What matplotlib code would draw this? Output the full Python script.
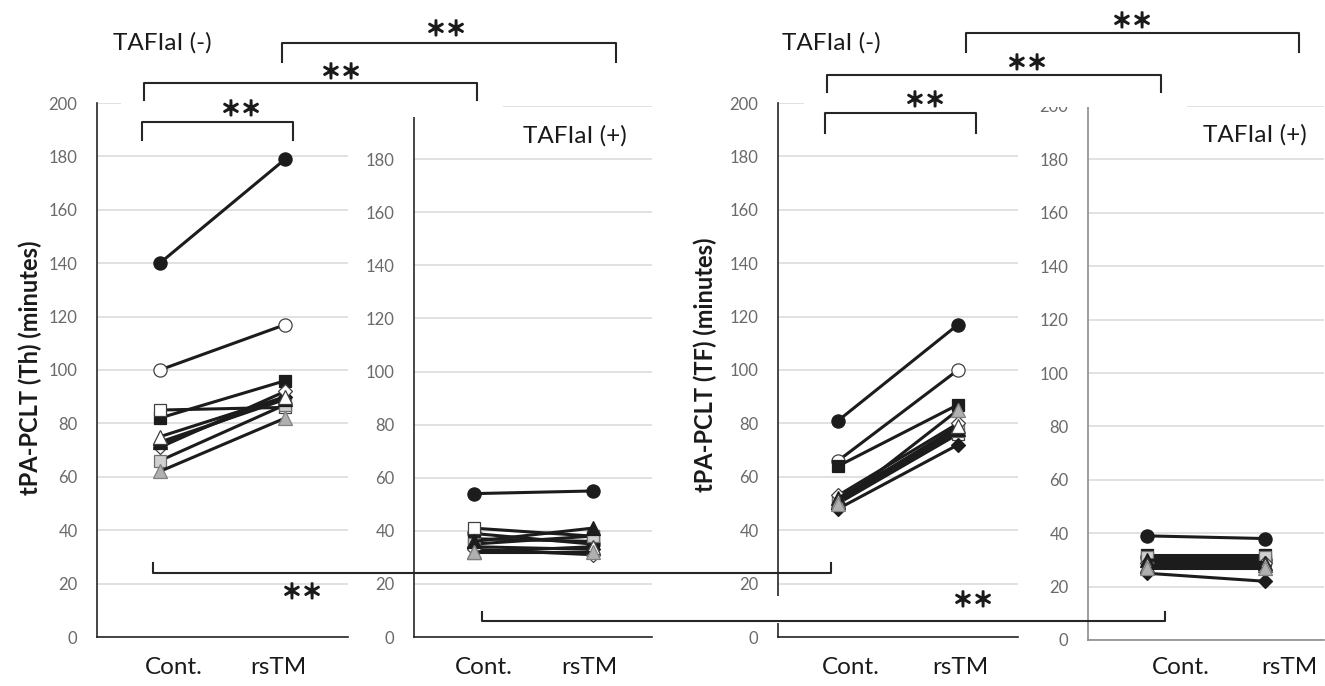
import matplotlib.pyplot as plt
import matplotlib.patheffects as pe
from matplotlib.patches import Rectangle

W, H, DPI = 1325, 686, 100

categories = ["Cont.", "rsTM"]

# one entry per subject, same order in every panel
th_minus_cont = [140, 100, 82, 85, 66, 72, 71, 73, 75, 62]
th_minus_rstm = [179, 117, 96, 86, 87, 90, 92, 89, 90, 82]
th_plus_cont = [54, 39, 37, 41, 35, 34, 33, 36, 32, 32]
th_plus_rstm = [55, 35, 36, 38, 38, 33, 31, 41, 34, 32]
tf_minus_cont = [81, 66, 64, 50, 51, 48, 53, 52, 51, 50]
tf_minus_rstm = [117, 100, 87, 76, 77, 72, 80, 78, 79, 85]
tf_plus_cont = [39, 31, 32, 30, 31, 25, 29, 30, 28, 27]
tf_plus_rstm = [38, 30, 32, 30, 31, 22, 29, 29, 28, 27]

y_ticks = [0, 20, 40, 60, 80, 100, 120, 140, 160, 180, 200]

DARK = '#1c1c1c'
# marker, face colour, edge colour, size
styles = [
    ('o', DARK, DARK, 9.5),
    ('o', 'white', '#404040', 9.5),
    ('s', DARK, DARK, 9),
    ('s', 'white', '#404040', 9),
    ('s', '#d0d0d0', '#707070', 9),
    ('D', DARK, DARK, 7.5),
    ('D', 'white', '#404040', 7.5),
    ('^', DARK, DARK, 9.5),
    ('^', 'white', '#404040', 9.5),
    ('^', '#b0b0b0', '#808080', 9.5),
]

plt.rcParams['font.family'] = ['Lato', 'DejaVu Sans']

fig = plt.figure(figsize=(W / DPI, H / DPI), dpi=DPI)


def px_axes(left, right, top, bottom):
    # axes placed by pixel edges (top = value 200, bottom = value 0)
    return fig.add_axes([left / W, 1 - bottom / H, (right - left) / W, (bottom - top) / H])


def draw_panel(ax, cont, rstm, spine_color='#262626'):
    ax.set_facecolor('none')
    ax.set_xlim(-0.5, 1.5)
    ax.set_ylim(0, 200)
    ax.set_yticks(y_ticks)
    ax.set_xticks([])
    ax.grid(axis='y', color='#d9d9d9', lw=1.1)
    ax.set_axisbelow(True)
    ax.tick_params(axis='y', length=0, pad=14, labelsize=12, labelcolor='#6a6a6a')
    for s in ['top', 'right']:
        ax.spines[s].set_visible(False)
    for s in ['left', 'bottom']:
        ax.spines[s].set_color(spine_color)
        ax.spines[s].set_linewidth(1.2)
    for i, (m, fc, ec, ms) in enumerate(styles):
        ax.plot([0, 1], [cont[i], rstm[i]], color=DARK, lw=2.2,
                marker=m, ms=ms, mfc=fc, mec=ec, mew=0.9,
                clip_on=False, zorder=3 + i)


ax1 = px_axes(97, 348, 103, 637)
draw_panel(ax1, th_minus_cont, th_minus_rstm)
ax2 = px_axes(414, 652, 106, 637)
draw_panel(ax2, th_plus_cont, th_plus_rstm)
ax3 = px_axes(778, 1018, 103, 637)
draw_panel(ax3, tf_minus_cont, tf_minus_rstm)
ax4 = px_axes(1088, 1324, 106, 640)
draw_panel(ax4, tf_plus_cont, tf_plus_rstm, spine_color='#8c8c8c')

# overlay in pixel coordinates for labels and significance brackets
ov = fig.add_axes([0, 0, 1, 1])
ov.set_xlim(0, W)
ov.set_ylim(H, 0)
ov.axis('off')
ov.set_facecolor('none')

# white boxes that hide parts of the panels, as in the original layout
for x0, y0, x1, y1 in [(121, 95, 503, 117), (804, 95, 1187, 107), (760, 596, 1010, 623)]:
    ov.add_patch(Rectangle((x0, y0), x1 - x0, y1 - y0, facecolor='white', edgecolor='none', zorder=1))

star_fx = [pe.withStroke(linewidth=1.3, foreground='#1a1a1a')]


def bracket(x0, x1, top, leg, label_x, label_y):
    ov.plot([x0, x0, x1, x1], [leg, top, top, leg], color='#262626', lw=1.5, zorder=3)
    ov.text(label_x, label_y, '\uff0a\uff0a', ha='center', va='center', fontsize=14.5,
            family='Noto Sans CJK JP', color='#1a1a1a', zorder=4, path_effects=star_fx)


bracket(142, 293, 122, 140, 241, 110)
bracket(144, 477, 83, 100, 341, 73)
bracket(282, 616, 43, 62, 446, 30)
bracket(153, 831, 573, 563, 302, 593)
bracket(825, 976, 113, 133, 925, 101)
bracket(827, 1161, 75, 92, 1027, 64)
bracket(966, 1299, 33, 52, 1132, 22)
bracket(482, 1165, 621, 612, 973, 601)

txt = dict(ha='center', va='center', fontsize=17.5, color='#1a1a1a', zorder=4)
ov.text(162, 43, 'TAFIaI (-)', **txt)
ov.text(831, 43, 'TAFIaI (-)', **txt)
ov.text(575, 136, 'TAFIaI (+)', **txt)
ov.text(1255, 135, 'TAFIaI (+)', **txt)

for xc, xr in [(174, 278), (484, 589), (851, 960), (1181, 1289)]:
    ov.text(xc, 668, categories[0], **txt)
    ov.text(xr, 668, categories[1], **txt)

ov.text(30, 368, 'tPA-PCLT (Th) (minutes)', rotation=90, ha='center', va='center',
        fontsize=17, fontweight='bold', color='#1a1a1a')
ov.text(705, 365, 'tPA-PCLT (TF) (minutes)', rotation=90, ha='center', va='center',
        fontsize=17, fontweight='bold', color='#1a1a1a')

fig.savefig('out.png', dpi=DPI, facecolor='white')
